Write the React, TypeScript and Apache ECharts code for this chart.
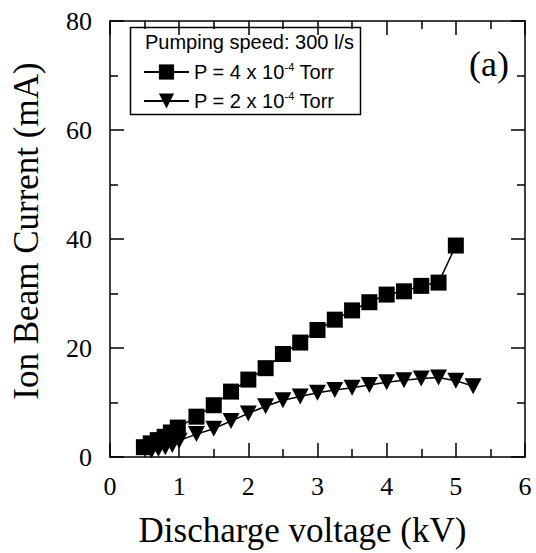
import React, { useEffect, useRef } from "react";
import * as echarts from "echarts";

const squareX = [0.49, 0.59, 0.69, 0.79, 0.88, 0.98, 1.25, 1.5, 1.75, 2.0, 2.25, 2.5, 2.75, 3.0, 3.25, 3.5, 3.75, 4.0, 4.25, 4.5, 4.75, 5.0];
const squareY = [1.8, 2.5, 3.1, 3.7, 4.5, 5.4, 7.4, 9.5, 12.0, 14.2, 16.3, 18.9, 21.0, 23.3, 25.2, 26.9, 28.4, 29.8, 30.4, 31.4, 32.0, 38.8];

const triX = [0.6, 0.7, 0.8, 0.9, 1.0, 1.25, 1.5, 1.75, 2.0, 2.25, 2.5, 2.75, 3.0, 3.25, 3.5, 3.75, 4.0, 4.25, 4.5, 4.75, 5.0, 5.25];
const triY = [1.2, 1.5, 1.8, 2.2, 3.0, 4.2, 5.2, 6.6, 8.0, 9.3, 10.4, 11.1, 11.8, 12.3, 12.7, 13.2, 13.7, 14.1, 14.4, 14.6, 14.0, 13.0];

const seriesNames = ["P4", "P2"];
const legendLabels: Record<string, string> = {
  P4: "P = 4 x 10{s|-4} Torr",
  P2: "P = 2 x 10{s|-4} Torr",
};
const legendTitle = "Pumping speed: 300 l/s";
const panelLabel = "(a)";
const xTitle = "Discharge voltage (kV)";
const yTitle = "Ion Beam Current (mA)";

const serif = "'Liberation Serif', 'Times New Roman', serif";
const sans = "'Liberation Sans', Arial, sans-serif";
const triPath = "path://M0,0 L10,0 L5,9 Z";

export default function App() {
  const ref = useRef<HTMLDivElement>(null);
  useEffect(() => {
    if (!ref.current) return;
    const chart = echarts.init(ref.current, undefined, { renderer: "svg" });
    const axisCommon = {
      axisLine: { show: true, onZero: false, lineStyle: { color: "#000", width: 1.5 } },
      axisTick: { show: true, inside: true, length: 14, lineStyle: { color: "#000", width: 1.5 } },
      minorTick: { show: true, splitNumber: 2, length: 8, lineStyle: { color: "#000", width: 1.5 } },
      splitLine: { show: false },
      minorSplitLine: { show: false },
    };
    chart.setOption({
      animation: false,
      backgroundColor: "#fff",
      grid: { left: 110, right: 11, top: 21, bottom: 96, containLabel: false },
      xAxis: [
        {
          type: "value", min: 0, max: 6, interval: 1, position: "bottom",
          ...axisCommon,
          axisLabel: { show: true, margin: 16, fontSize: 26, fontFamily: serif, color: "#000" },
          name: xTitle, nameLocation: "middle", nameGap: 56,
          nameTextStyle: { fontSize: 35, fontFamily: serif, color: "#000", padding: [0, 30, 0, 0] },
        },
        {
          type: "value", min: 0, max: 6, interval: 1, position: "top",
          ...axisCommon, axisLabel: { show: false },
        },
      ],
      yAxis: [
        {
          type: "value", min: 0, max: 80, interval: 20, position: "left",
          ...axisCommon,
          axisLabel: { show: true, margin: 18, fontSize: 26, fontFamily: serif, color: "#000" },
          name: yTitle, nameLocation: "middle", nameGap: 66,
          nameTextStyle: { fontSize: 35, fontFamily: serif, color: "#000", padding: [0, 0, 0, 16] },
        },
        {
          type: "value", min: 0, max: 80, interval: 20, position: "right",
          ...axisCommon, axisLabel: { show: false },
        },
      ],
      legend: {
        show: true,
        orient: "vertical",
        left: 143,
        top: 61,
        padding: 0,
        itemGap: 7,
        itemWidth: 45,
        itemHeight: 19,
        data: seriesNames,
        formatter: (n: string) => legendLabels[n],
        textStyle: {
          fontSize: 20, fontFamily: sans, color: "#000", lineHeight: 22,
          rich: { s: { fontSize: 11, fontFamily: sans, color: "#000", lineHeight: 11, verticalAlign: "top" } },
        },
      },
      graphic: [
        {
          type: "rect", left: 128, top: 25, z: 5,
          shape: { width: 230, height: 87 },
          style: { fill: "none", stroke: "#000", lineWidth: 1.5 },
        },
        {
          type: "text", left: 145, top: 32, z: 6,
          style: { text: legendTitle, fontSize: 20, fontFamily: sans, fill: "#000" },
        },
        {
          type: "text", left: 469, top: 46, z: 6,
          style: { text: panelLabel, fontSize: 36, fontFamily: serif, fill: "#000" },
        },
      ],
      series: [
        {
          name: seriesNames[0], type: "line",
          data: squareX.map((x, i) => [x, squareY[i]]),
          symbol: "rect", symbolSize: 16,
          itemStyle: { color: "#000" },
          lineStyle: { color: "#000", width: 1.5 },
        },
        {
          name: seriesNames[1], type: "line",
          data: triX.map((x, i) => [x, triY[i]]),
          symbol: triPath, symbolSize: [17, 16],
          itemStyle: { color: "#000" },
          lineStyle: { color: "#000", width: 1.5 },
        },
      ],
    });
    return () => chart.dispose();
  }, []);
  return <div ref={ref} style={{ width: 536, height: 553, position: "absolute", left: 0, top: 0 }} />;
}
